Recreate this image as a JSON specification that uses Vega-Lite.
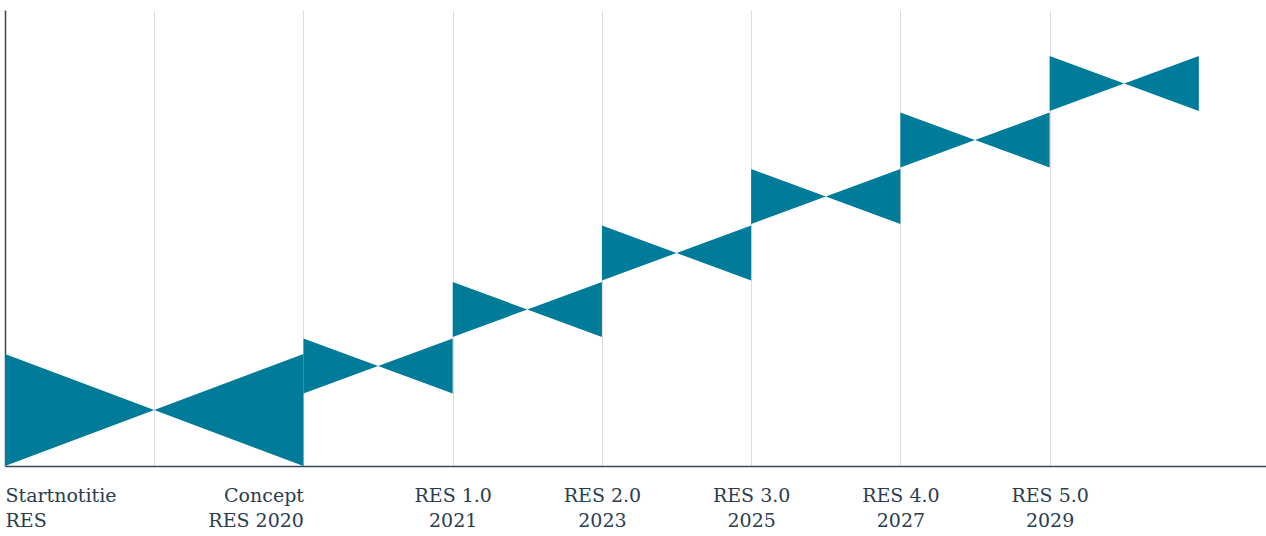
{
  "$schema": "https://vega.github.io/schema/vega-lite/v6.json",
  "description": "RES timeline as bow-tie shapes",
  "autosize": "none",
  "padding": {"left": 5, "top": 10, "right": 0, "bottom": 70},
  "width": 1261,
  "height": 456,
  "background": "white",
  "config": {"view": {"stroke": null}},
  "data": {
    "values": [
      {"g": "A", "x": 0, "lo": 0, "hi": 112},
      {"g": "A", "x": 1, "lo": 56, "hi": 56},
      {"g": "A", "x": 2, "lo": 0, "hi": 112},
      {"g": "B", "x": 2, "lo": 72.5, "hi": 127.5},
      {"g": "B", "x": 2.5, "lo": 100, "hi": 100},
      {"g": "B", "x": 3, "lo": 72.5, "hi": 127.5},
      {"g": "C", "x": 3, "lo": 129, "hi": 184},
      {"g": "C", "x": 3.5, "lo": 156.5, "hi": 156.5},
      {"g": "C", "x": 4, "lo": 129, "hi": 184},
      {"g": "D", "x": 4, "lo": 185.5, "hi": 240.5},
      {"g": "D", "x": 4.5, "lo": 213, "hi": 213},
      {"g": "D", "x": 5, "lo": 185.5, "hi": 240.5},
      {"g": "E", "x": 5, "lo": 242, "hi": 297},
      {"g": "E", "x": 5.5, "lo": 269.5, "hi": 269.5},
      {"g": "E", "x": 6, "lo": 242, "hi": 297},
      {"g": "F", "x": 6, "lo": 298.5, "hi": 353.5},
      {"g": "F", "x": 6.5, "lo": 326, "hi": 326},
      {"g": "F", "x": 7, "lo": 298.5, "hi": 353.5},
      {"g": "G", "x": 7, "lo": 355, "hi": 410},
      {"g": "G", "x": 7.5, "lo": 382.5, "hi": 382.5},
      {"g": "G", "x": 8, "lo": 355, "hi": 410}
    ]
  },
  "mark": {"type": "area", "color": "#007b9a", "interpolate": "linear", "strokeWidth": 0},
  "encoding": {
    "x": {
      "field": "x",
      "type": "quantitative",
      "scale": {"domain": [0, 8.45], "nice": false, "zero": false},
      "axis": {
        "title": null,
        "values": [0, 1, 2, 3, 4, 5, 6, 7],
        "labelExpr": "datum.value == 0 ? ['Startnotitie', 'RES'] : datum.value == 2 ? ['Concept', 'RES 2020'] : datum.value == 3 ? ['RES 1.0', '2021'] : datum.value == 4 ? ['RES 2.0', '2023'] : datum.value == 5 ? ['RES 3.0', '2025'] : datum.value == 6 ? ['RES 4.0', '2027'] : datum.value == 7 ? ['RES 5.0', '2029'] : ''",
        "labelAlign": {"condition": [{"test": "datum.value == 0", "value": "left"}, {"test": "datum.value == 2", "value": "right"}], "value": "center"},
        "labelBaseline": "top",
        "labelPadding": 20,
        "labelLineHeight": 25,
        "labelFont": "DejaVu Serif",
        "labelFontSize": 19,
        "labelColor": "#2a3d52",
        "labelFlush": false,
        "labelOverlap": false,
        "ticks": false,
        "domainColor": "#34495e",
        "domainWidth": 1.5,
        "grid": true,
        "gridColor": "#dcdce6",
        "gridWidth": 1
      }
    },
    "y": {
      "field": "lo",
      "type": "quantitative",
      "scale": {"domain": [0, 456], "nice": false},
      "axis": {
        "title": null,
        "labels": false,
        "ticks": false,
        "grid": false,
        "domainColor": "#34495e",
        "domainWidth": 1.5
      }
    },
    "y2": {"field": "hi"},
    "detail": {"field": "g"}
  }
}
